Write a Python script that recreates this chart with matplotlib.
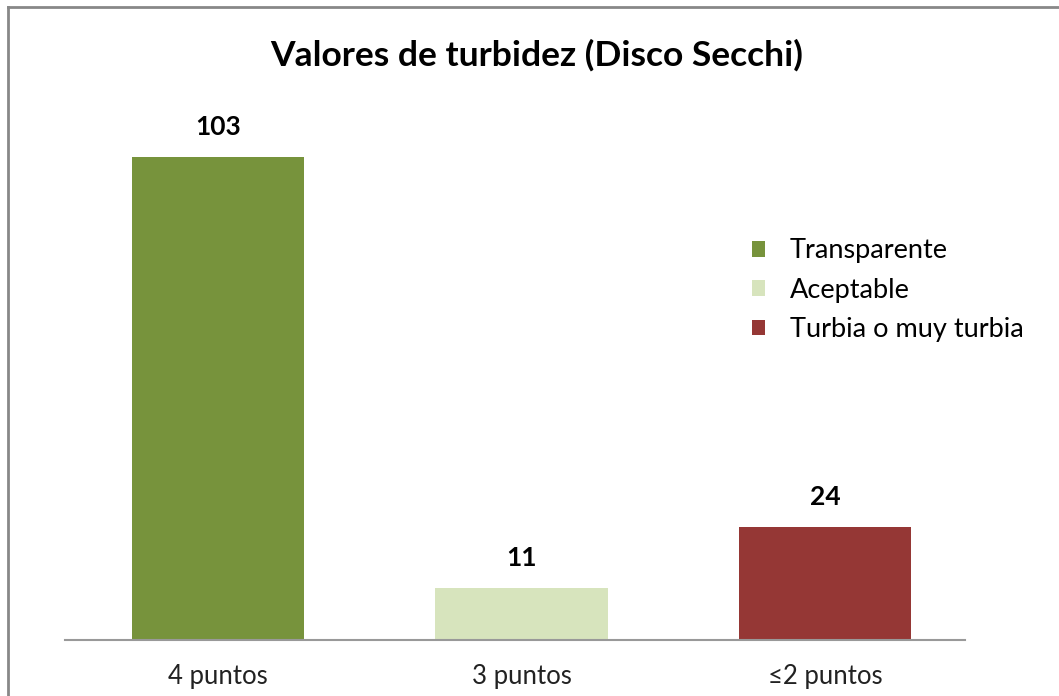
import matplotlib.pyplot as plt
from matplotlib.lines import Line2D
from matplotlib.patches import Patch

plt.rcParams['font.family'] = ['Lato', 'DejaVu Sans']

categories = ['4 puntos', '3 puntos', '≤2 puntos']
values = [103, 11, 24]
series = ['Transparente', 'Aceptable', 'Turbia o muy turbia']
colors = ['#77933C', '#D7E4BD', '#953735']

fig = plt.figure(figsize=(10.59, 6.96), dpi=100)
ax = fig.add_axes([65 / 1059, 56 / 696, 900 / 1059, 563 / 696])

x = range(len(categories))
bars = ax.bar(x, values, width=0.567, color=colors)

ax.set_xlim(-0.504, 2.461)
ax.set_ylim(0, 120)
ax.set_yticks([])
for side in ['top', 'right', 'left']:
    ax.spines[side].set_visible(False)
ax.spines['bottom'].set_color('#999999')
ax.spines['bottom'].set_linewidth(1.5)
ax.set_xticks(list(x))
ax.set_xticklabels(categories, fontsize=18.5, color='#222222')
ax.tick_params(axis='x', length=0, pad=17)

for b, v in zip(bars, values):
    ax.annotate(str(v), (b.get_x() + b.get_width() / 2, v),
                xytext=(0, 13), textcoords='offset points',
                ha='center', va='bottom', fontsize=19, fontweight='bold')

fig.text(0.507, 0.92, 'Valores de turbidez (Disco Secchi)', ha='center',
         va='center', fontsize=25.5, fontweight='bold')

handles = [Patch(facecolor=c, edgecolor='none') for c in colors]
ax.legend(handles, series, loc='upper left', bbox_to_anchor=(0.742, 0.747),
          frameon=False, fontsize=19.5, handlelength=0.5, handleheight=0.5,
          handletextpad=0.9, labelspacing=0.53, borderpad=0.2)

# outer chart border (left and top edges visible)
fig.add_artist(Line2D([8 / 1059, 8 / 1059], [0, 1 - 7 / 696],
                      transform=fig.transFigure, color='#888888', lw=2))
fig.add_artist(Line2D([8 / 1059, 1], [1 - 7 / 696, 1 - 7 / 696],
                      transform=fig.transFigure, color='#888888', lw=2))

fig.savefig('out.png', dpi=100)
